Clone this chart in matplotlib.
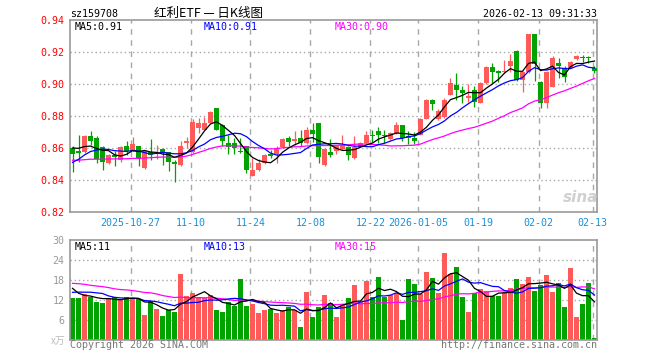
import matplotlib
matplotlib.use("Agg")
import matplotlib.pyplot as plt
import numpy as np
import pandas as pd

# ---------------- data ----------------
dates_ticks = ["2025-10-27", "11-10", "11-24", "12-08", "12-22",
               "2026-01-05", "01-19", "02-02", "02-13"]
tick_index = [10, 20, 30, 40, 50, 58, 68, 78, 87]

open_ = [0.8600, 0.8580, 0.8575, 0.8675, 0.8660, 0.8605, 0.8508, 0.8556, 0.8525, 0.8615,
         0.8583, 0.8612, 0.8473, 0.8575, 0.8560, 0.8594, 0.8573, 0.8513, 0.8494, 0.8633,
         0.8577, 0.8723, 0.8713, 0.8758, 0.8848, 0.8744, 0.8630, 0.8630, 0.8583, 0.8613,
         0.8427, 0.8463, 0.8508, 0.8561, 0.8563, 0.8604, 0.8660, 0.8646, 0.8665, 0.8630,
         0.8713, 0.8754, 0.8494, 0.8577, 0.8580, 0.8592, 0.8608, 0.8535, 0.8608, 0.8633,
         0.8679, 0.8706, 0.8681, 0.8654, 0.8696, 0.8744, 0.8670, 0.8660, 0.8681, 0.8781,
         0.8900, 0.8779, 0.8796, 0.8931, 0.8994, 0.8963, 0.8910, 0.8960, 0.8883, 0.9004,
         0.9108, 0.9081, 0.9077, 0.9113, 0.9206, 0.9025, 0.9077, 0.9313, 0.9010, 0.8880,
         0.8983, 0.9129, 0.9102, 0.9102, 0.9156, 0.9162, 0.9162, 0.9102]
high = [0.8610, 0.8680, 0.8680, 0.8706, 0.8675, 0.8610, 0.8560, 0.8580, 0.8615, 0.8646,
        0.8667, 0.8615, 0.8585, 0.8656, 0.8620, 0.8600, 0.8575, 0.8525, 0.8644, 0.8670,
        0.8780, 0.8790, 0.8792, 0.8833, 0.8850, 0.8750, 0.8680, 0.8660, 0.8660, 0.8615,
        0.8535, 0.8530, 0.8560, 0.8588, 0.8610, 0.8660, 0.8675, 0.8708, 0.8713, 0.8733,
        0.8755, 0.8755, 0.8595, 0.8654, 0.8610, 0.8680, 0.8610, 0.8675, 0.8635, 0.8708,
        0.8713, 0.8733, 0.8713, 0.8700, 0.8764, 0.8745, 0.8705, 0.8700, 0.8785, 0.8905,
        0.8905, 0.8845, 0.8915, 0.9035, 0.9067, 0.8990, 0.9000, 0.8990, 0.9010, 0.9110,
        0.9130, 0.9090, 0.9150, 0.9190, 0.9210, 0.9080, 0.9313, 0.9313, 0.9020, 0.9080,
        0.9175, 0.9165, 0.9110, 0.9145, 0.9180, 0.9180, 0.9175, 0.9115]
low = [0.8450, 0.8510, 0.8570, 0.8620, 0.8505, 0.8463, 0.8500, 0.8490, 0.8510, 0.8556,
       0.8580, 0.8490, 0.8467, 0.8525, 0.8530, 0.8494, 0.8456, 0.8390, 0.8490, 0.8600,
       0.8570, 0.8695, 0.8710, 0.8755, 0.8710, 0.8613, 0.8565, 0.8560, 0.8570, 0.8442,
       0.8425, 0.8455, 0.8500, 0.8535, 0.8504, 0.8600, 0.8610, 0.8620, 0.8610, 0.8625,
       0.8635, 0.8508, 0.8490, 0.8542, 0.8563, 0.8590, 0.8525, 0.8530, 0.8605, 0.8630,
       0.8640, 0.8630, 0.8630, 0.8650, 0.8690, 0.8645, 0.8625, 0.8625, 0.8680, 0.8780,
       0.8838, 0.8775, 0.8790, 0.8930, 0.8900, 0.8880, 0.8890, 0.8858, 0.8880, 0.9000,
       0.9004, 0.9015, 0.9070, 0.9077, 0.9020, 0.8950, 0.9070, 0.9020, 0.8852, 0.8848,
       0.8980, 0.9035, 0.9010, 0.9100, 0.9150, 0.9137, 0.9130, 0.9070]
close = [0.8565, 0.8570, 0.8675, 0.8645, 0.8530, 0.8510, 0.8558, 0.8546, 0.8605, 0.8583,
         0.8625, 0.8530, 0.8581, 0.8556, 0.8570, 0.8575, 0.8511, 0.8500, 0.8610, 0.8644,
         0.8764, 0.8758, 0.8758, 0.8827, 0.8713, 0.8646, 0.8605, 0.8600, 0.8577, 0.8460,
         0.8463, 0.8508, 0.8556, 0.8552, 0.8594, 0.8656, 0.8640, 0.8656, 0.8630, 0.8713,
         0.8685, 0.8546, 0.8592, 0.8556, 0.8610, 0.8619, 0.8556, 0.8608, 0.8633, 0.8681,
         0.8675, 0.8681, 0.8677, 0.8692, 0.8744, 0.8660, 0.8665, 0.8645, 0.8781, 0.8900,
         0.8875, 0.8833, 0.8900, 0.9004, 0.8963, 0.8946, 0.8925, 0.8890, 0.9004, 0.9108,
         0.9077, 0.9067, 0.9083, 0.9146, 0.9025, 0.9077, 0.9313, 0.9123, 0.8880, 0.9077,
         0.9165, 0.9115, 0.9046, 0.9140, 0.9177, 0.9160, 0.9160, 0.9080]
volume = [12.7, 12.7, 13.7, 13.0, 11.5, 11.2, 12.7, 12.8, 12.2, 13.0,
          12.2, 12.2, 7.5, 11.8, 9.3, 7.2, 9.0, 8.4, 19.8, 13.2,
          14.0, 13.0, 12.5, 13.5, 9.0, 8.4, 11.4, 10.2, 18.3, 10.2,
          10.8, 8.1, 9.0, 9.2, 8.1, 9.0, 10.0, 9.0, 4.0, 14.4,
          6.9, 9.8, 13.5, 11.0, 7.0, 10.8, 12.6, 16.5, 11.5, 17.8,
          13.0, 18.9, 13.0, 13.5, 14.2, 6.0, 18.3, 16.8, 13.7, 20.5,
          18.7, 14.1, 26.2, 19.9, 22.0, 13.0, 8.5, 14.0, 15.2, 14.7,
          13.2, 13.2, 14.5, 15.7, 18.3, 16.8, 19.0, 14.8, 16.5, 19.5,
          14.5, 17.0, 10.0, 21.7, 7.0, 10.8, 17.0, 0.7]

# sessions before the visible window (estimated from where the MA lines start)
prev_close = [0.856, 0.858, 0.855, 0.853, 0.850, 0.852, 0.854, 0.857, 0.859, 0.856,
              0.853, 0.851, 0.849, 0.850, 0.852, 0.855, 0.854, 0.851, 0.849, 0.846,
              0.838, 0.840, 0.843, 0.844, 0.845, 0.858, 0.862, 0.863, 0.8605]
prev_volume = [16, 19, 22, 18, 17, 21, 24, 19, 16, 18, 20, 17, 15, 19, 22, 18, 17, 16, 18, 15,
               12, 14, 13, 13.5, 13, 20, 17, 14, 13.8]

price_ticks = [0.82, 0.84, 0.86, 0.88, 0.90, 0.92, 0.94]
vol_ticks = [6, 12, 18, 24, 30]

# ---------------- styling ----------------
RED = "#ff5a5a"
GREEN = "#00a300"
GRID = "#a8a8a8"
FRAME = "#999999"
MONO = "DejaVu Sans Mono"
CJK = ["Noto Sans CJK SC", "DejaVu Sans"]

W, H = 660, 360
fig = plt.figure(figsize=(W / 100, H / 100), dpi=100)
fig.patch.set_facecolor("white")

ax = fig.add_axes([70 / W, 1 - 212 / H, 527 / W, 192 / H])
axv = fig.add_axes([70 / W, 1 - 340 / H, 527 / W, 100 / H])

n = len(close)
idx = np.arange(n)
o = np.array(open_); c = np.array(close); hi = np.array(high); lo = np.array(low)
v = np.array(volume)
up = c >= o
cols = np.where(up, RED, GREEN)

full_c = pd.Series(np.concatenate([prev_close, c]))
full_v = pd.Series(np.concatenate([prev_volume, v]))
k = len(prev_close)
ma = {m: full_c.rolling(m).mean().values[k:] for m in (5, 10, 30)}
vma = {m: full_v.rolling(m).mean().values[k:] for m in (5, 10, 30)}
ma_cols = {5: "black", 10: "#0000ff", 30: "#ff00ff"}

xl = (-2.5 / 6, n - 1 + 2.5 / 6)
grid_x = [t - 2.0 / 6 for t in tick_index]

for a in (ax, axv):
    a.set_xlim(*xl)
    for s in a.spines.values():
        s.set_color(FRAME)
        s.set_linewidth(1.2)
    for gx in grid_x:
        a.axvline(gx, color=GRID, lw=1.0, ls=(0, (4, 4)), zorder=0)
    a.tick_params(length=0)

# price panel
ax.set_ylim(0.82, 0.94)
for p in price_ticks[1:-1]:
    ax.axhline(p, color=GRID, lw=1.0, ls=(0, (1, 2)), zorder=0)
ax.vlines(idx, lo, hi, colors=cols, lw=0.9, zorder=2)
body_b = np.minimum(o, c)
body_h = np.maximum(np.abs(c - o), 0.0007)
ax.bar(idx, body_h, bottom=body_b, width=5 / 6, color=cols, linewidth=0, zorder=3)
for m in (30, 10, 5):
    ax.plot(idx, ma[m], color=ma_cols[m], lw=0.9, zorder=4)
ax.set_yticks(price_ticks)
ax.set_yticklabels([f"{p:.2f}" for p in price_ticks], color="#ff0000",
                   fontfamily=MONO, fontsize=7.2)
ax.tick_params(axis="y", pad=4)
ax.set_xticks(grid_x)
ax.set_xticklabels(dates_ticks, color="#1a8fd6", fontfamily=MONO, fontsize=7.2)
ax.tick_params(axis="x", pad=4)

# volume panel
axv.set_ylim(0, 30)
for t in vol_ticks[:-1]:
    axv.axhline(t, color=GRID, lw=1.0, ls=(0, (1, 2)), zorder=0)
axv.bar(idx, v, width=5 / 6, color=cols, linewidth=0, zorder=2)
for m in (30, 10, 5):
    axv.plot(idx, vma[m], color=ma_cols[m], lw=0.9, zorder=4)
axv.set_yticks(vol_ticks)
axv.set_yticklabels([str(t) for t in vol_ticks], color="#999999",
                    fontfamily=MONO, fontsize=7.2)
axv.tick_params(axis="y", pad=4)
axv.set_xticks([])

# texts
def ft(px, py, s, **kw):
    fig.text(px / W, 1 - py / H, s, **kw)

ft(70, 17, "sz159708", fontfamily=MONO, fontsize=7.2, color="black", va="baseline")
ft(209, 17, "红利ETF — 日K线图", family=CJK, fontsize=9, color="black",
   ha="center", va="baseline")
ft(597, 17, "2026-02-13 09:31:33", fontfamily=MONO, fontsize=7.2, color="black",
   ha="right", va="baseline")

ft(75, 29.5, "MA5:0.91", fontfamily=MONO, fontsize=7.2, color="black", va="baseline")
ft(204, 29.5, "MA10:0.91", fontfamily=MONO, fontsize=7.2, color="#0000ff", va="baseline")
ft(335, 29.5, "MA30:0.90", fontfamily=MONO, fontsize=7.2, color="#ff00ff", va="baseline")

ft(75, 249.5, "MA5:11", fontfamily=MONO, fontsize=7.2, color="black", va="baseline")
ft(204, 249.5, "MA10:13", fontfamily=MONO, fontsize=7.2, color="#0000ff", va="baseline")
ft(335, 249.5, "MA30:15", fontfamily=MONO, fontsize=7.2, color="#ff00ff", va="baseline")

ft(65, 341, "x万", family=CJK, fontsize=7, color="#bbbbbb", ha="right", va="center")
ft(70, 348, "Copyright 2026 SINA.COM", fontfamily=MONO, fontsize=7.2, color="#777777",
   va="baseline")
ft(597, 348, "http://finance.sina.com.cn", fontfamily=MONO, fontsize=7.2, color="#777777",
   ha="right", va="baseline")

ft(581, 197, "sina", fontsize=11, fontweight="bold", style="italic", color="#d0d0d0",
   ha="center", va="center")

fig.savefig("out.png", dpi=100, facecolor="white")
